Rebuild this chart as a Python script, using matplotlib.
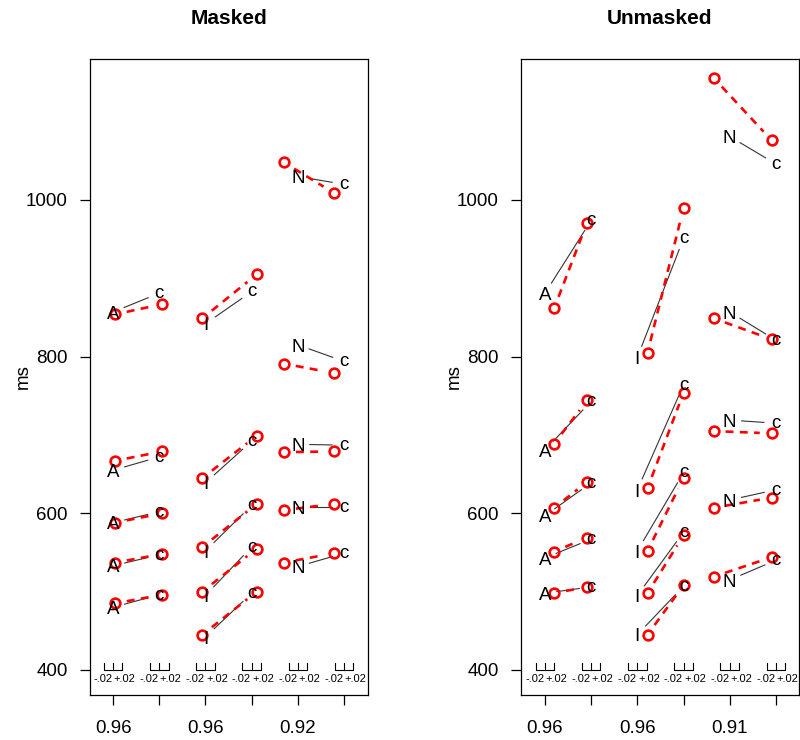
import numpy as np
import matplotlib.pyplot as plt
from matplotlib import transforms

plt.rcParams['font.family'] = ['Liberation Sans', 'DejaVu Sans']

# column positions and group letters
columns = [1, 2, 3, 4, 5, 6]
group_letters = ['A', 'I', 'N']
masked_xlabels = ['0.96', '', '0.96', '', '0.92', '']
unmasked_xlabels = ['0.96', '', '0.96', '', '0.91', '']

# predicted values (letters), first and second column of each group
masked_pred_A = [[857, 655, 588, 533, 480], [881, 672, 602, 547, 496]]
masked_pred_I = [[842, 639, 552, 495, 442], [883, 692, 610, 557, 498]]
masked_pred_N = [[1030, 815, 688, 608, 532], [1020, 794, 687, 608, 549]]
unmasked_pred_A = [[881, 681, 597, 543, 498], [974, 743, 639, 567, 506]]
unmasked_pred_I = [[799, 630, 552, 495, 445], [951, 764, 652, 576, 507]]
unmasked_pred_N = [[1081, 857, 719, 617, 515], [1046, 821, 715, 630, 540]]

# observed values (red circles)
masked_obs_A = [[854, 667, 588, 537, 485], [867, 679, 600, 548, 496]]
masked_obs_I = [[849, 645, 557, 500, 445], [905, 699, 612, 555, 500]]
masked_obs_N = [[1048, 791, 678, 604, 537], [1009, 779, 679, 612, 549]]
unmasked_obs_A = [[862, 689, 607, 551, 498], [971, 744, 640, 569, 506]]
unmasked_obs_I = [[805, 632, 552, 498, 445], [990, 754, 645, 572, 508]]
unmasked_obs_N = [[1156, 849, 705, 607, 519], [1076, 822, 702, 620, 544]]

# accuracy shift of observed points from the column centre (scale bar = +-.02)
masked_shift = [0.004, 0.0065, -0.0065, 0.011, -0.030, -0.022]
unmasked_shift = [0.020, -0.009, 0.022, 0.0, -0.035, -0.009]

SHIFT_SCALE = 10.0   # .02 accuracy -> 0.2 column units
GAP = 12             # pixels left open round each point (like R type="b")


def gapped(ax, x, y, **kw):
    # draw one segment, shortened at both ends by GAP pixels
    p = ax.transData.transform(np.array([[x[0], y[0]], [x[1], y[1]]]))
    d = p[1] - p[0]
    dist = np.hypot(*d)
    if dist <= 2 * GAP:
        return
    u = d / dist
    q = np.array([p[0] + u * GAP, p[1] - u * GAP])
    q = ax.transData.inverted().transform(q)
    ax.plot(q[:, 0], q[:, 1], **kw)


def letter(ax, fig, x, y, s):
    # centre the glyph itself on the point
    h = 13.5 * (0.716 if s.isupper() else 0.519)
    tr = transforms.offset_copy(ax.transData, fig=fig, y=-h / 2, units='points')
    ax.text(x, y, s, transform=tr, ha='center', va='baseline', fontsize=13.5,
            color='black')


def panel(ax, fig, title, preds, obs, shift, xlabels, xlim):
    ax.set_xlim(*xlim)
    ax.set_ylim(368, 1180)
    for g, (pr, ob, L) in enumerate(zip(preds, obs, group_letters)):
        c1, c2 = columns[2 * g], columns[2 * g + 1]
        for r in range(len(pr[0])):
            gapped(ax, [c1, c2], [pr[0][r], pr[1][r]], color='#333333', lw=0.8)
            letter(ax, fig, c1, pr[0][r], L)
            letter(ax, fig, c2, pr[1][r], 'c')
        for r in range(len(ob[0])):
            x1 = c1 + shift[2 * g] * SHIFT_SCALE
            x2 = c2 + shift[2 * g + 1] * SHIFT_SCALE
            gapped(ax, [x1, x2], [ob[0][r], ob[1][r]], color='red', lw=1.9,
                   dashes=(3, 2.4))
            ax.plot([x1, x2], [ob[0][r], ob[1][r]], 'o', ls='none', mfc='none',
                    mec='red', ms=7, mew=1.9)

    # small scale bars under each column
    d = 0.02 * SHIFT_SCALE
    left = transforms.offset_copy(ax.transData, fig=fig, x=-0.4, units='points')
    right = transforms.offset_copy(ax.transData, fig=fig, x=0.4, units='points')
    for c in columns:
        ax.plot([c - d, c - d, c + d, c + d], [409, 400, 400, 409], color='black', lw=0.8)
        ax.plot([c, c], [400, 409], color='black', lw=0.8)
        ax.text(c, 389, '-.02', ha='right', va='center', fontsize=8,
                transform=left)
        ax.text(c, 389, '+.02', ha='left', va='center', fontsize=8,
                transform=right)

    ax.set_xticks(columns)
    ax.set_xticklabels(xlabels)
    ax.set_yticks([400, 600, 800, 1000])
    ax.tick_params(axis='both', direction='out', length=7, width=0.9,
                   labelsize=13.5, colors='black')
    ax.tick_params(axis='x', pad=11)
    ax.tick_params(axis='y', pad=9)
    for s in ax.spines.values():
        s.set_linewidth(0.9)
    ax.text(-0.24, 0.5, 'ms', transform=ax.transAxes, rotation=90,
            ha='center', va='center', fontsize=13.5)
    ax.text(0.5, 1 + 41 / 636, title, transform=ax.transAxes, ha='center',
            va='center', fontsize=15, fontweight='bold')


fig = plt.figure(figsize=(8, 7.4), dpi=100)
ax1 = fig.add_axes([90 / 800, 45 / 740, 278 / 800, 636 / 740])
ax2 = fig.add_axes([521 / 800, 45 / 740, 278 / 800, 636 / 740])

panel(ax1, fig, 'Masked', [masked_pred_A, masked_pred_I, masked_pred_N],
      [masked_obs_A, masked_obs_I, masked_obs_N], masked_shift,
      masked_xlabels, (0.5, 6.52))
panel(ax2, fig, 'Unmasked', [unmasked_pred_A, unmasked_pred_I, unmasked_pred_N],
      [unmasked_obs_A, unmasked_obs_I, unmasked_obs_N], unmasked_shift,
      unmasked_xlabels, (0.48, 6.50))

fig.savefig('out.png', dpi=100)
